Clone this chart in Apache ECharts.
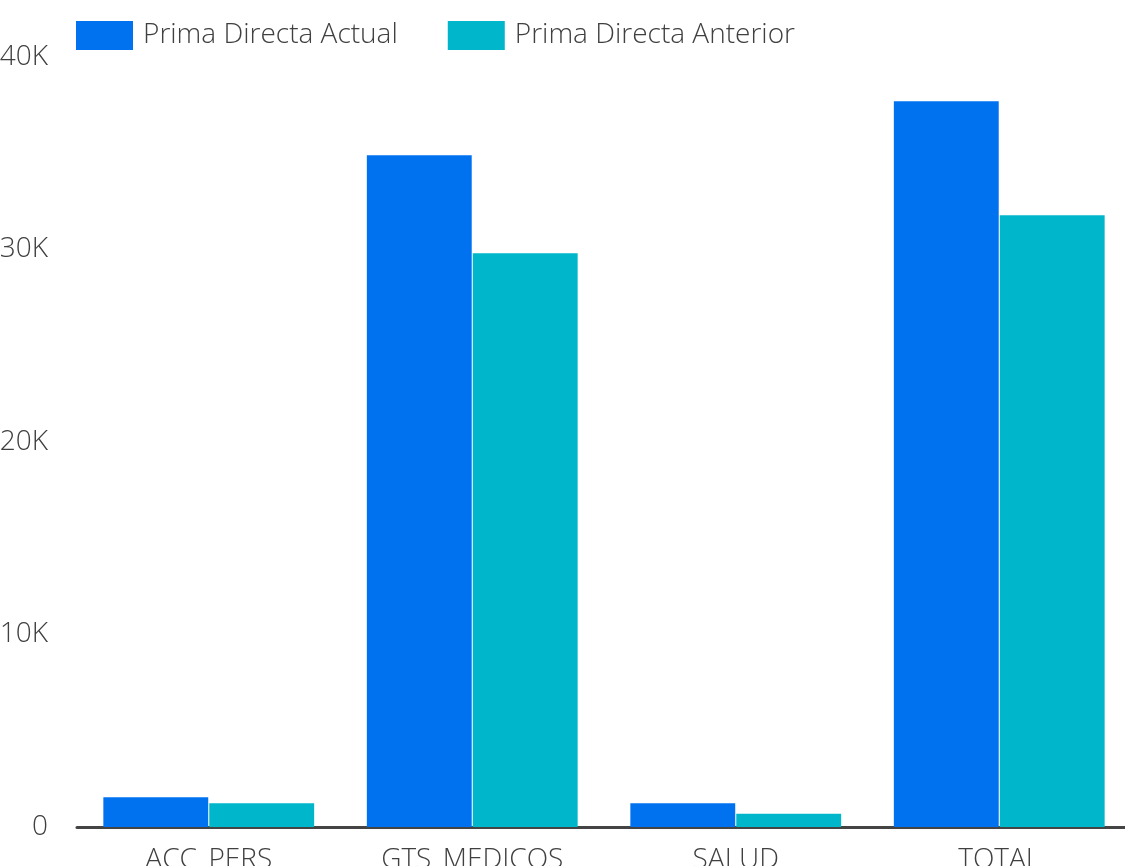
<!DOCTYPE html>
<html>
<head>
<meta charset="utf-8">
<script src="https://cdn.jsdelivr.net/npm/echarts@6/dist/echarts.min.js"></script>
<style>
  html, body { margin: 0; padding: 0; background: #fff; overflow: hidden; }
  #bar { width: 1125px; height: 866px; }
</style>
</head>
<body>
<div id="bar"></div>
<script>
// categorias y valores
var categories = ['ACC_PERS', 'GTS_MEDICOS', 'SALUD', 'TOTAL'];
var primaActual = [1540, 34900, 1230, 37700];
var primaAnterior = [1230, 29800, 690, 31780];
var yTicks = [0, 10000, 20000, 30000, 40000];

var myChartBar = echarts.init(document.getElementById('bar'));
var fontName = 'Open Sans';

var barOption = {
    backgroundColor: '#fff',
    animation: false,
    color: ['#0072f0', '#00b6cb'],
    textStyle: { fontFamily: fontName },
    legend: {
        left: 76,
        top: 21,
        padding: 0,
        itemWidth: 57,
        itemHeight: 29,
        itemGap: 50,
        icon: 'rect',
        textStyle: { fontSize: 28, fontWeight: 300, color: '#404040', fontFamily: fontName, padding: [0, 0, 0, 5] },
        data: ['Prima Directa Actual', 'Prima Directa Anterior']
    },
    grid: {
        left: 77,
        right: -6,
        top: 57,
        bottom: 39,
        outerBoundsMode: 'none'
    },
    xAxis: {
        type: 'category',
        data: categories,
        axisTick: { show: false },
        axisLine: { lineStyle: { color: '#444', width: 3 } },
        axisLabel: { color: '#404040', fontSize: 28, fontWeight: 300, margin: 19, fontFamily: fontName }
    },
    yAxis: {
        type: 'value',
        min: yTicks[0],
        max: yTicks[yTicks.length - 1],
        interval: 10000,
        axisLine: { show: false },
        axisTick: { show: false },
        splitLine: { show: false },
        axisLabel: {
            color: '#404040',
            fontSize: 28,
            fontWeight: 300,
            margin: 29,
            fontFamily: fontName,
            formatter: function (v) { return v === 0 ? '0' : (v / 1000) + 'K'; }
        }
    },
    series: [
        {
            name: 'Prima Directa Actual',
            type: 'bar',
            barCategoryGap: '20%',
            barGap: '1%',
            data: primaActual
        },
        {
            name: 'Prima Directa Anterior',
            type: 'bar',
            barCategoryGap: '20%',
            barGap: '1%',
            data: primaAnterior
        }
    ]
};
myChartBar.setOption(barOption);
</script>
</body>
</html>
